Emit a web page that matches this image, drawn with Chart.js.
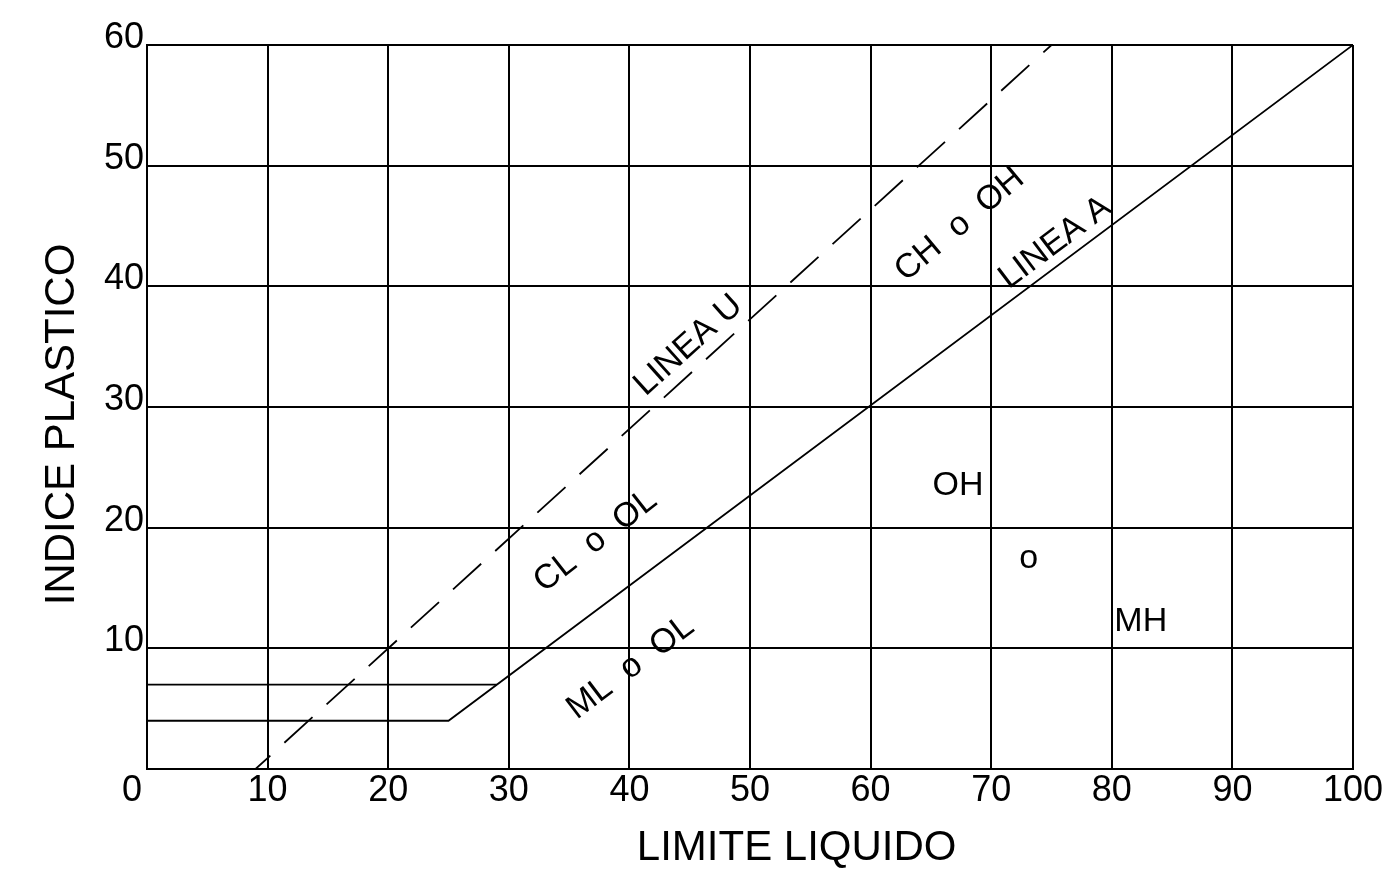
<!DOCTYPE html>
<html>
<head>
<meta charset="utf-8">
<script src="https://cdn.jsdelivr.net/npm/chart.js@4.4.1/dist/chart.umd.min.js"></script>
<style>
html,body{margin:0;padding:0;background:#fff;}
#wrap{width:1397px;height:876px;position:relative;}
</style>
</head>
<body>
<div id="wrap"><canvas id="c"></canvas></div>
<script>
// ---- data ----
const xTicks = [0, 10, 20, 30, 40, 50, 60, 70, 80, 90, 100];
const xTickLabels = ['0   ', '10', '20', '30', '40', '50', '60', '70', '80', '90', '100'];
const yTicks = [0, 10, 20, 30, 40, 50, 60];
const yTickLabels = ['', '10', '20', '30', '40', '50', '60'];

// Linea A (with horizontal segment at PI = 4)
const lineA_LL = [0, 25, 100];
const lineA_PI = [4, 4, 60];
// horizontal line at PI = 7
const line7_LL = [0, 29];
const line7_PI = [7, 7];
// Linea U (dashed)
const lineU_LL = [9, 75];
const lineU_PI = [0, 60];

// zone labels (text, LL, PI, angle)
const noteTexts = ['LINEA U', 'CH  o  OH', 'LINEA A', 'CL  o  OL', 'ML  o  OL', 'OH', 'o', 'MH'];
const noteLL = [44.9, 67.4, 75.3, 37.2, 40.1, 67.25, 73.1, 82.4];
const notePI = [35.1, 45.1, 43.6, 18.9, 8.4, 23.5, 17.45, 12.2];
const noteAngles = [42, 40, 37, 38, 37, 0, 0, 0];

const FONT = '"Liberation Sans", Arial, sans-serif';

function pts(xs, ys) { return xs.map((v, i) => ({x: v, y: ys[i]})); }

const notesPlugin = {
  id: 'notes',
  afterDatasetsDraw(chart) {
    const {ctx, scales: {x, y}} = chart;
    ctx.save();
    ctx.fillStyle = '#000';
    ctx.font = '34px ' + FONT;
    ctx.textAlign = 'center';
    ctx.textBaseline = 'middle';
    noteTexts.forEach((t, i) => {
      ctx.save();
      ctx.translate(x.getPixelForValue(noteLL[i]), y.getPixelForValue(notePI[i]));
      ctx.rotate(-noteAngles[i] * Math.PI / 180);
      ctx.fillText(t, 0, 0);
      ctx.restore();
    });
    ctx.restore();
  }
};

new Chart(document.getElementById('c'), {
  type: 'scatter',
  data: {
    datasets: [
      {data: pts(lineA_LL, lineA_PI), showLine: true, borderColor: '#000', borderWidth: 1.8, pointRadius: 0, tension: 0},
      {data: pts(line7_LL, line7_PI), showLine: true, borderColor: '#000', borderWidth: 1.8, pointRadius: 0, tension: 0},
      {data: pts(lineU_LL, lineU_PI), showLine: true, borderColor: '#000', borderWidth: 1.8, pointRadius: 0, tension: 0,
       borderDash: [38, 19], borderDashOffset: 18}
    ]
  },
  options: {
    responsive: true,
    maintainAspectRatio: false,
    animation: false,
    layout: {padding: {left: 0, right: 44, top: 45, bottom: 0}},
    plugins: {legend: {display: false}, tooltip: {enabled: false}},
    scales: {
      x: {
        type: 'linear', min: 0, max: 100,
        afterBuildTicks: (s) => { s.ticks = xTicks.map(v => ({value: v})); },
        afterFit: (s) => { s.height = 107; },
        grid: {color: '#000', lineWidth: 2, drawTicks: false},
        border: {color: '#000', width: 2},
        ticks: {
          color: '#000', font: {family: FONT, size: 36}, padding: 0, maxRotation: 0, autoSkip: false,
          callback: (v) => xTickLabels[xTicks.indexOf(v)]
        },
        title: {display: true, text: '        LIMITE LIQUIDO', color: '#000',
                font: {family: FONT, size: 42}, padding: {top: 0, bottom: 2}}
      },
      y: {
        type: 'linear', min: 0, max: 60,
        afterBuildTicks: (s) => { s.ticks = yTicks.map(v => ({value: v})); },
        afterFit: (s) => { s.width = 147; },
        grid: {color: '#000', lineWidth: 2, drawTicks: false},
        border: {color: '#000', width: 2},
        ticks: {
          color: '#000', font: {family: FONT, size: 36}, padding: 3, labelOffset: -7, autoSkip: false,
          callback: (v) => yTickLabels[yTicks.indexOf(v)]
        },
        title: {display: true, text: 'INDICE PLASTICO   ', color: '#000',
                font: {family: FONT, size: 42}, padding: {top: 37, bottom: 0}}
      }
    }
  },
  plugins: [notesPlugin]
});
</script>
</body>
</html>
